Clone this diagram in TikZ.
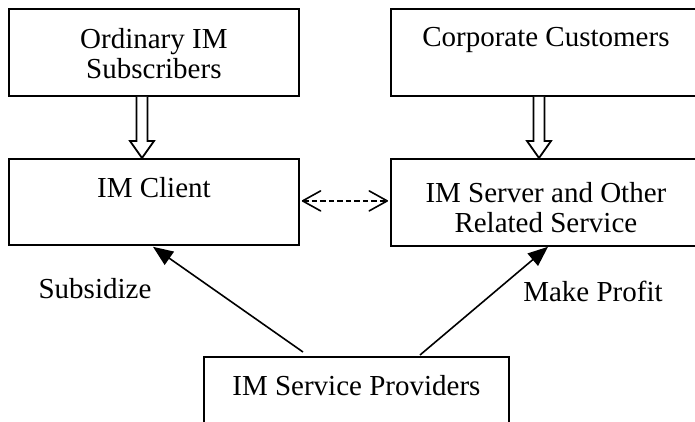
\documentclass[tikz,border=0pt]{standalone}
\usepackage{fontspec}
\setmainfont{Liberation Serif}
\usetikzlibrary{arrows.meta,calc}
\begin{document}
\begin{tikzpicture}[x=1pt,y=-1pt,
  box/.style={draw, line width=1.8pt, rectangle, inner sep=0pt, anchor=north west},
  txt/.style={font=\fontsize{29}{30}\selectfont, align=center, inner sep=0pt, anchor=north},
  lbl/.style={font=\fontsize{29}{30}\selectfont, inner sep=0pt, anchor=base},
  conn/.style={line width=1.6pt, -{Triangle[length=20pt,width=16pt]}},
  barb/.tip={Straight Barb[length=18pt,width=20pt,line width=1.6pt,round]},
  dashconn/.style={line width=1.6pt, dash pattern=on 5.5pt off 3pt, barb-barb},
  hollow/.style={draw, fill=white, line width=1.8pt, line join=miter}]
\clip (0,0) rectangle (695,421);

\node[box, minimum width=290pt, minimum height=87pt,
  label={[txt,yshift=-20pt]north:{Ordinary IM\\Subscribers}}] (o) at (8,8) {};
\node[box, minimum width=310pt, minimum height=87pt,
  label={[txt,yshift=-19pt]north:{Corporate Customers}}] (cc) at (390,8) {};
\node[box, minimum width=290pt, minimum height=86pt,
  label={[txt,yshift=-19pt]north:{IM Client}}] (c) at (8,158) {};
\node[box, minimum width=310pt, minimum height=87pt,
  label={[txt,yshift=-24pt]north:{IM Server and Other\\Related Service}}] (s) at (390,158) {};
\node[box, minimum width=305pt, minimum height=100pt,
  label={[txt,yshift=-19pt]north:{IM Service Providers}}] (p) at (203,356) {};

\node[lbl] (sub) at (95,298) {Subsidize};
\node[lbl] (mp) at (593,301) {Make Profit};

% hollow arrows
\draw[hollow] let \p1=($(o.south west)+(134,0)$), \p2=(c.north) in
  (\x1-5.5pt,\y1) -- (\x1-5.5pt,\y2+17pt) -- (\x1-12pt,\y2+17pt) -- (\x1,\y2)
  -- (\x1+12pt,\y2+17pt) -- (\x1+5.5pt,\y2+17pt) -- (\x1+5.5pt,\y1);
\draw[hollow] let \p1=($(cc.south west)+(149,0)$), \p2=(s.north) in
  (\x1-5.5pt,\y1) -- (\x1-5.5pt,\y2+17pt) -- (\x1-12pt,\y2+17pt) -- (\x1,\y2)
  -- (\x1+12pt,\y2+17pt) -- (\x1+5.5pt,\y2+17pt) -- (\x1+5.5pt,\y1);

% dashed link
\draw[dashconn] ($(c.east)+(2,-1)$) -- ($(c.east -| s.west)+(-2,-1)$);

% provider arrows
\draw[conn] ($(p.north west)+(100,-4)$) -- ($(c.south west)+(145,1)$);
\draw[conn] ($(p.north west)+(217,-1)$) -- ($(s.south west)+(158,0)$);
\end{tikzpicture}
\end{document}
